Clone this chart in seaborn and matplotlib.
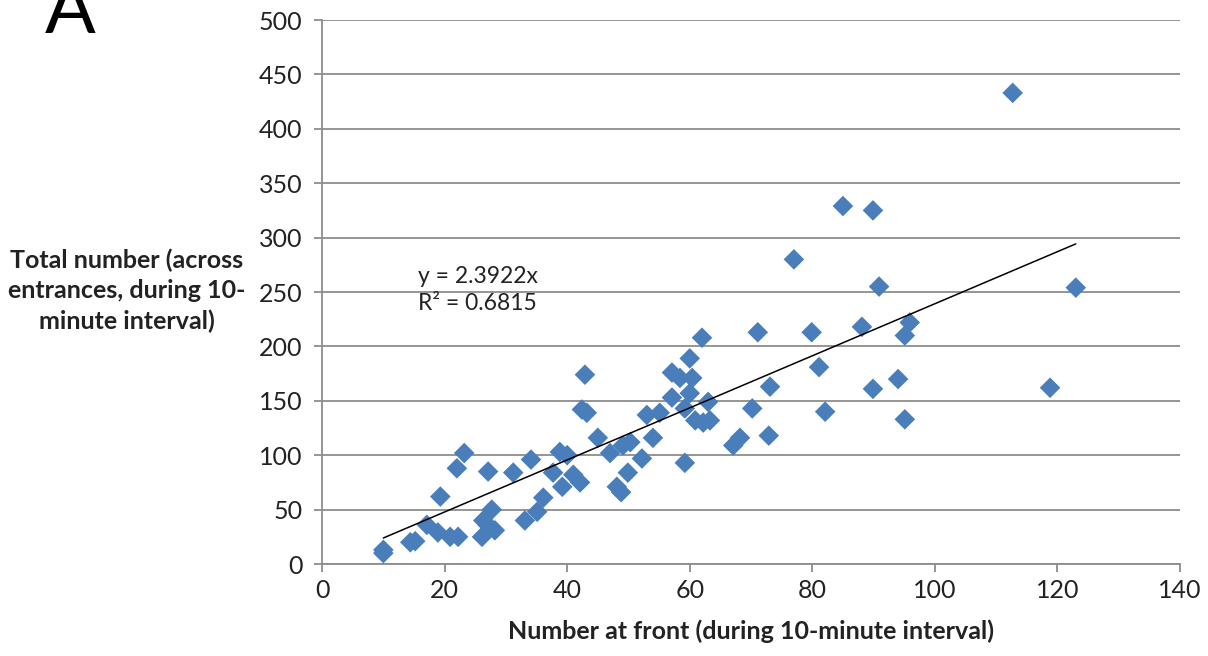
import numpy as np
import pandas as pd
import matplotlib
matplotlib.use("Agg")
import matplotlib.pyplot as plt
import seaborn as sns

# values
number_at_front = [
    10, 10, 14.4, 15.2, 17.1, 19.3, 18.9, 20.9, 22.2, 22, 23.2, 26.1, 26.3, 27.1,
    28.2, 27.7, 27, 31.2, 33.1, 34.1, 35.1, 36.1, 37.7, 38.8, 40, 39.2, 41, 42.1,
    42.4, 43.2, 42.9, 45, 47, 48.1, 48.8, 49.1, 50.3, 49.9, 52.2, 53, 54, 55.1,
    57.1, 58.4, 57.1, 59.2, 59.2, 60, 60.4, 60, 60.9, 62, 62.2, 63, 63.3, 67.1,
    68.2, 70.2, 71.1, 73.1, 72.9, 77, 79.9, 81.1, 82.1, 85, 88.1, 89.9, 89.9,
    90.9, 94, 95.1, 95.1, 95.9, 112.7, 118.8, 123,
]
total_number = [
    13, 10, 20, 21, 36, 62, 29, 25, 25, 88, 102, 25, 40, 85,
    31, 50, 36, 84, 40, 96, 48, 61, 84, 103, 100, 71, 82, 75,
    142, 139, 174, 116, 102, 71, 66, 109, 112, 84, 97, 137, 116, 139,
    176, 171, 153, 93, 143, 189, 171, 157, 132, 208, 130, 149, 132, 109,
    116, 143, 213, 163, 118, 280, 213, 181, 140, 329, 218, 325, 161,
    255, 170, 210, 133, 222, 433, 162, 254,
]
slope = 2.3922
r_squared = 0.6815

x_ticks = [0, 20, 40, 60, 80, 100, 120, 140]
y_ticks = [0, 50, 100, 150, 200, 250, 300, 350, 400, 450, 500]

df = pd.DataFrame({"front": number_at_front, "total": total_number})

sns.set_theme(style="white")
plt.rcParams['font.family'] = ['Lato', 'DejaVu Sans']

fig = plt.figure(figsize=(12.08, 6.56), dpi=100)
ax = fig.add_axes([0.2666, 0.1402, 0.7102, 0.8293])

sns.scatterplot(data=df, x="front", y="total", marker="D", s=110,
                color="#4A7EBB", edgecolor="none", ax=ax, zorder=3)

# linear trendline through origin, over the data range
xs = np.array([min(number_at_front), max(number_at_front)])
ax.plot(xs, slope * xs, color="black", lw=1.1, zorder=4)

ax.set_xlim(0, 140)
ax.set_ylim(0, 500)
ax.set_xticks(x_ticks)
ax.set_yticks(y_ticks)
ax.yaxis.grid(True, color="#8c8c8c", lw=1.3)
ax.set_axisbelow(True)

for side in ["top", "right"]:
    ax.spines[side].set_visible(False)
for side in ["left", "bottom"]:
    ax.spines[side].set_color("#8c8c8c")
    ax.spines[side].set_linewidth(1.3)

ax.tick_params(axis="both", which="major", labelsize=18, colors="#8c8c8c",
               labelcolor="#222222", length=6, width=1.3, direction="out",
               bottom=True, left=True)
ax.tick_params(axis="x", pad=5)
ax.tick_params(axis="y", pad=8)

ax.set_xlabel("Number at front (during 10-minute interval)", fontsize=18,
              fontweight="bold", color="#222222", labelpad=12)
ax.set_ylabel("")
fig.text(0.105, 0.557, "Total number (across\nentrances, during 10-\nminute interval)",
         ha="center", va="center", fontsize=18, fontweight="bold",
         color="#222222", linespacing=1.38)

ax.text(0.112, 0.504, f"y = {slope}x\nR² = {r_squared}", transform=ax.transAxes,
        fontsize=16.5, color="#222222", va="center", linespacing=1.35)

fig.text(0.058, 1.035, "A", fontsize=54, ha="center", va="top", color="black")

fig.savefig("out.png", dpi=100)
